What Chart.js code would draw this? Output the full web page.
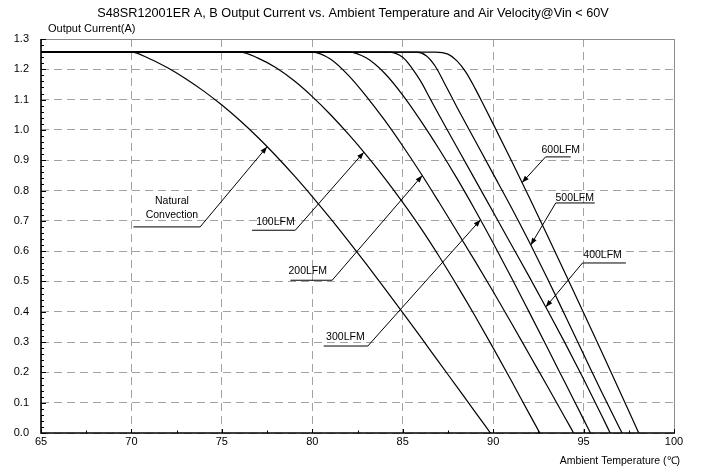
<!DOCTYPE html>
<html lang="en">
<head>
<meta charset="UTF-8">
<title>S48SR12001ER Output Current Derating</title>
<script src="https://cdn.jsdelivr.net/npm/chart.js"></script>
<style>
  html, body { margin: 0; padding: 0; background: #fff; }
  #wrap { width: 701px; height: 472px; position: relative; }
</style>
</head>
<body>
<div id="wrap"><canvas id="derating"></canvas></div>
<script>
// Derating curves: ambient temperature (deg C) -> max output current (A)
const tempNatural = [65, 70, 71, 72, 73, 74, 75, 76, 77, 78, 79, 80, 81, 82, 83, 84, 85, 86, 87, 88, 89, 89.85];
const currNatural = [1.257, 1.257, 1.235, 1.205, 1.169, 1.128, 1.082, 1.031, 0.975, 0.914, 0.849, 0.780, 0.708, 0.633, 0.556, 0.477, 0.397, 0.316, 0.234, 0.152, 0.070, 0];

const temp100 = [65, 76, 77, 78, 79, 80, 81, 82, 83, 84, 85, 86, 87, 88, 89, 90, 91, 92, 92.58];
const curr100 = [1.257, 1.257, 1.237, 1.205, 1.162, 1.11, 1.051, 0.986, 0.916, 0.841, 0.761, 0.676, 0.584, 0.487, 0.386, 0.281, 0.173, 0.063, 0];

const temp200 = [65, 80, 81, 82, 83, 84, 85, 86, 87, 88, 89, 90, 91, 92, 93, 94, 94.45];
const curr200 = [1.257, 1.257, 1.234, 1.18, 1.11, 1.032, 0.947, 0.857, 0.762, 0.665, 0.567, 0.467, 0.364, 0.259, 0.154, 0.048, 0];

const temp300 = [65, 82, 83, 84, 85, 86, 87, 88, 89, 90, 91, 92, 93, 94, 95, 95.38];
const curr300 = [1.257, 1.257, 1.237, 1.187, 1.115, 1.03, 0.938, 0.84, 0.736, 0.627, 0.514, 0.398, 0.281, 0.163, 0.045, 0];

const temp400 = [65, 84.2, 85, 85.5, 86, 86.5, 87, 88, 89, 90, 91, 92, 93, 94, 95, 96, 96.47];
const curr400 = [1.257, 1.257, 1.24, 1.205, 1.16, 1.105, 1.05, 0.943, 0.836, 0.729, 0.622, 0.515, 0.406, 0.294, 0.178, 0.058, 0];

const temp500 = [65, 85.8, 86.3, 86.8, 87.3, 88, 89, 90, 91, 92, 93, 94, 95, 96, 97, 97.13];
const curr500 = [1.257, 1.257, 1.245, 1.21, 1.155, 1.075, 0.965, 0.855, 0.745, 0.63, 0.51, 0.385, 0.26, 0.135, 0.015, 0];

const temp600 = [65, 86.8, 87.5, 88, 88.5, 89, 89.5, 90, 91, 92, 93, 94, 95, 96, 97, 98.05];
const curr600 = [1.257, 1.257, 1.25, 1.228, 1.19, 1.137, 1.079, 1.02, 0.9, 0.777, 0.652, 0.525, 0.397, 0.268, 0.138, 0];

const seriesNames = ['Natural Convection', '100LFM', '200LFM', '300LFM', '400LFM', '500LFM', '600LFM'];
const seriesTemps = [tempNatural, temp100, temp200, temp300, temp400, temp500, temp600];
const seriesCurrs = [currNatural, curr100, curr200, curr300, curr400, curr500, curr600];

const xTickValues = [65, 70, 75, 80, 85, 90, 95, 100];
const yTickValues = [0, 0.1, 0.2, 0.3, 0.4, 0.5, 0.6, 0.7, 0.8, 0.9, 1.0, 1.1, 1.2, 1.3];

const chartTitle = 'S48SR12001ER A, B Output Current vs. Ambient Temperature and Air Velocity@Vin < 60V';
const yCaption = 'Output Current(A)';
const xCaption = 'Ambient Temperature (\u2103)';

// callout labels: text centre, underline and the temperature where the arrow meets its curve
const callouts = [
  { series: 0, lines: ['Natural', 'Convection'], tx: 72.24, ty: [0.765, 0.718], ux: [70.11, 73.8], uy: 0.68, from: 1, tipT: 77.5 },
  { series: 1, lines: ['100LFM'], tx: 77.96, ty: [0.696], ux: [76.67, 79.06], uy: 0.669, from: 1, tipT: 82.85 },
  { series: 2, lines: ['200LFM'], tx: 79.75, ty: [0.535], ux: [78.79, 81.1], uy: 0.504, from: 1, tipT: 86.08 },
  { series: 3, lines: ['300LFM'], tx: 81.83, ty: [0.317], ux: [80.63, 83.07], uy: 0.287, from: 1, tipT: 89.3 },
  { series: 6, lines: ['600LFM'], tx: 93.74, ty: [0.935], ux: [92.9, 94.29], uy: 0.911, from: 0, tipT: 91.6 },
  { series: 5, lines: ['500LFM'], tx: 94.51, ty: [0.774], ux: [93.46, 95.62], uy: 0.759, from: 0, tipT: 92.08 },
  { series: 4, lines: ['400LFM'], tx: 96.05, ty: [0.586], ux: [94.94, 97.34], uy: 0.561, from: 0, tipT: 92.91 }
];

const FONT = '"Liberation Sans", Arial, sans-serif';

function interp(xs, ys, t) {
  for (let i = 1; i < xs.length; i++) {
    if (t <= xs[i]) {
      const f = (t - xs[i - 1]) / (xs[i] - xs[i - 1]);
      return ys[i - 1] + f * (ys[i] - ys[i - 1]);
    }
  }
  return ys[ys.length - 1];
}

// axis lines, inward tick marks and the grey frame
const frame = {
  id: 'frame',
  beforeDatasetsDraw(chart) {
    const { ctx, chartArea: a, scales: { x, y } } = chart;
    ctx.save();
    ctx.strokeStyle = '#8c8c8c';
    ctx.lineWidth = 1;
    ctx.beginPath();
    ctx.moveTo(a.left, a.top + 0.5);
    ctx.lineTo(a.right + 0.5, a.top + 0.5);
    ctx.lineTo(a.right + 0.5, a.bottom);
    ctx.stroke();

    ctx.strokeStyle = '#000';
    ctx.lineWidth = 1;
    ctx.beginPath();
    for (let v = 65; v <= 100.001; v += 2.5) {
      const px = Math.round(x.getPixelForValue(v)) + 0.5;
      const len = Math.abs(v % 5) < 1e-6 ? 4 : 2.5;
      ctx.moveTo(px, a.bottom);
      ctx.lineTo(px, a.bottom - len);
    }
    for (let i = 0; i <= 65; i++) {
      const v = i * 0.02;
      const py = Math.round(y.getPixelForValue(v)) + 0.5;
      const len = i % 5 === 0 ? 5 : 3;
      ctx.moveTo(a.left, py);
      ctx.lineTo(a.left + len, py);
    }
    ctx.stroke();

    ctx.lineWidth = 1.6;
    ctx.beginPath();
    ctx.moveTo(a.left, a.top);
    ctx.lineTo(a.left, a.bottom);
    ctx.lineTo(a.right + 1, a.bottom);
    ctx.stroke();
    ctx.restore();
  }
};

// leader lines with arrow heads plus their captions
const labels = {
  id: 'labels',
  afterDatasetsDraw(chart) {
    const { ctx, scales: { x, y } } = chart;
    ctx.save();
    ctx.strokeStyle = '#000';
    ctx.fillStyle = '#000';
    ctx.lineWidth = 1;
    ctx.font = '10.5px ' + FONT;
    ctx.textAlign = 'center';
    ctx.textBaseline = 'middle';
    callouts.forEach(c => {
      const uy = y.getPixelForValue(c.uy);
      const u0 = x.getPixelForValue(c.ux[0]);
      const u1 = x.getPixelForValue(c.ux[1]);
      const sx = c.from ? u1 : u0;
      const tx = x.getPixelForValue(c.tipT);
      const ty = y.getPixelForValue(interp(seriesTemps[c.series], seriesCurrs[c.series], c.tipT));

      ctx.beginPath();
      ctx.moveTo(u0, uy);
      ctx.lineTo(u1, uy);
      ctx.moveTo(sx, uy);
      ctx.lineTo(tx, ty);
      ctx.stroke();

      const ang = Math.atan2(ty - uy, tx - sx);
      const L = 7, W = 2.6;
      ctx.beginPath();
      ctx.moveTo(tx, ty);
      ctx.lineTo(tx - L * Math.cos(ang) + W * Math.sin(ang), ty - L * Math.sin(ang) - W * Math.cos(ang));
      ctx.lineTo(tx - L * Math.cos(ang) - W * Math.sin(ang), ty - L * Math.sin(ang) + W * Math.cos(ang));
      ctx.closePath();
      ctx.fill();

      c.lines.forEach((t, i) => {
        ctx.fillText(t, x.getPixelForValue(c.tx), y.getPixelForValue(c.ty[i]));
      });
    });
    ctx.restore();
  },
  afterDraw(chart) {
    const { ctx, chartArea: a } = chart;
    ctx.save();
    ctx.fillStyle = '#000';
    ctx.textBaseline = 'middle';
    ctx.font = '12.7px ' + FONT;
    ctx.textAlign = 'center';
    ctx.fillText(chartTitle, 353, 13);
    ctx.font = '11px ' + FONT;
    ctx.textAlign = 'left';
    ctx.fillText(yCaption, a.left + 7, a.top - 10);
    ctx.textAlign = 'right';
    ctx.font = '10.5px ' + FONT;
    ctx.fillText(xCaption, a.right + 6, a.bottom + 28);
    ctx.restore();
  }
};

const datasets = seriesNames.map((name, i) => ({
  label: name,
  data: seriesTemps[i].map((t, k) => ({ x: t, y: seriesCurrs[i][k] })),
  borderColor: '#000',
  borderWidth: 1.2,
  pointRadius: 0,
  fill: false,
  cubicInterpolationMode: 'monotone'
}));

const gridStyle = { color: '#a3a3a3', lineWidth: 1, drawTicks: false };

new Chart(document.getElementById('derating'), {
  type: 'line',
  data: { datasets: datasets },
  plugins: [frame, labels],
  options: {
    responsive: true,
    maintainAspectRatio: false,
    animation: false,
    events: [],
    layout: { padding: { left: 0, right: 27, top: 39, bottom: 0 } },
    plugins: {
      legend: { display: false },
      tooltip: { enabled: false },
      title: { display: false }
    },
    scales: {
      x: {
        type: 'linear',
        min: 65,
        max: 100,
        afterBuildTicks: s => { s.ticks = xTickValues.map(v => ({ value: v })); },
        afterFit: s => { s.height = 39; },
        grid: gridStyle,
        border: { display: false, dash: [8, 5] },
        ticks: { padding: 2, color: '#000', font: { family: FONT, size: 11 } }
      },
      y: {
        min: 0,
        max: 1.3,
        afterBuildTicks: s => { s.ticks = yTickValues.map(v => ({ value: v })); },
        afterFit: s => { s.width = 41; },
        grid: gridStyle,
        border: { display: false, dash: [8, 5] },
        ticks: {
          padding: 12,
          color: '#000',
          font: { family: FONT, size: 11 },
          callback: v => v.toFixed(1)
        }
      }
    }
  }
});
</script>
</body>
</html>
